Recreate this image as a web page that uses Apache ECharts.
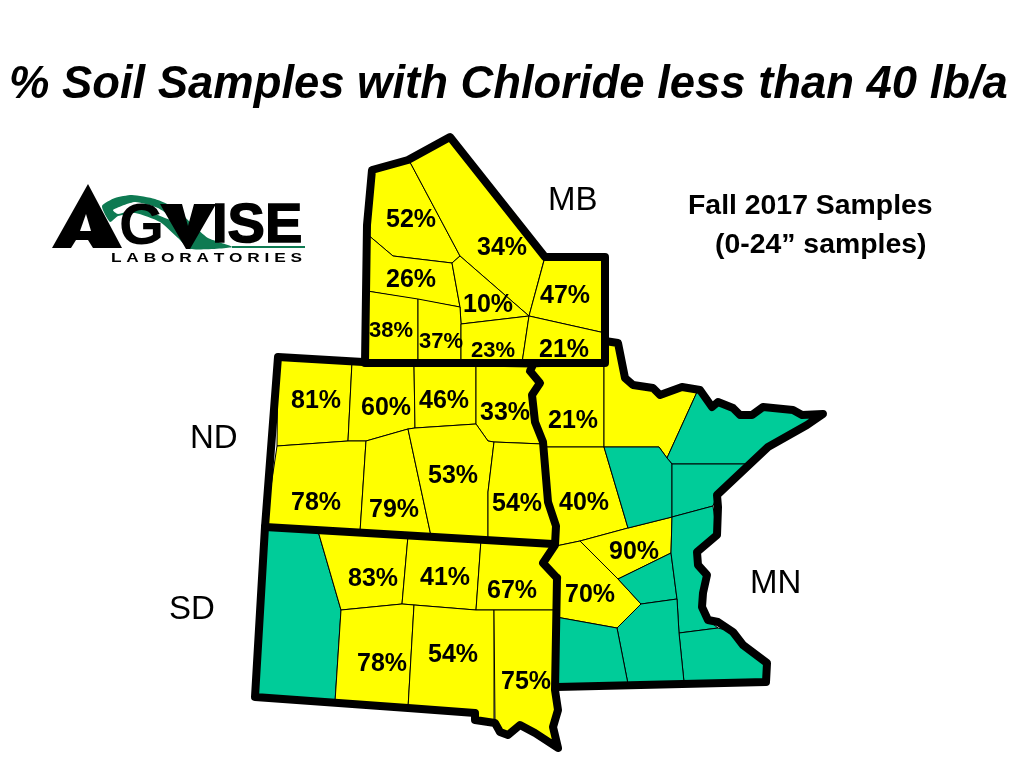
<!DOCTYPE html>
<html><head><meta charset="utf-8">
<style>html,body{margin:0;padding:0;background:#fff}#c{width:1024px;height:768px}</style>
<script src="https://cdn.jsdelivr.net/npm/echarts@6/dist/echarts.min.js"></script>
</head><body><div id="c"></div>
<script>
var titleText = '% Soil Samples with Chloride less than 40 lb/a';
var noteLines = ['Fall 2017 Samples', '(0-24\u201d samples)'];
var stateLabels = ['MB', 'ND', 'SD', 'MN'];

// percent of samples per crop-reporting district (null = no samples)
var mbValues = [52, 34, 26, 10, 47, 38, 37, 23, 21];
var ndValues = [81, 60, 46, 33, 78, 79, 53, 54];
var sdValues = [null, 83, 41, 67, 78, 54, 75];
var mnValues = [21, 0, 40, 90, 70, null, null, null, null, null, null, null, null];

// river along ND/MN and SD/MN
var river = [[532,367],[530,371],[540,383],[532,395],[535,422],[543,442],[548,502],[556,526],[555,545],[543,563],[557,578]];
var mbOutline = [[365,363],[367,225],[372,170],[408,160],[450,137],[545,257],[605,257],[605,363],[365,363]];
var ndOutline = [[265,527],[278,357],[363,362]];
var sdOutline = [[557,578],[555,690],[558,710],[553,727],[558,748],[535,733],[520,725],[508,735],[500,732],[495,723],[475,720],[475,713],[408,708],[255,697],[265,527],[553,544]];
var mnOutline = [[605,341],[618,343],[625,378],[633,385],[653,388],[660,395],[682,387],[700,390],[712,407],[718,402],[733,408],[740,415],[752,415],[763,407],[793,410],[802,415],[823,414],[807,425],[768,447],[717,495],[718,507],[717,535],[697,552],[698,565],[707,575],[703,593],[702,607],[708,620],[718,622],[733,632],[743,645],[767,663],[766,682],[557,687]];

var mbShapes = [
 [[367,234],[367,225],[372,170],[408,160],[411,164],[460,256],[452,263],[393,256]],
 [[408,160],[450,137],[545,257],[544,260],[529,316],[460,256],[411,164]],
 [[367,234],[393,256],[452,263],[460,307],[367,291]],
 [[452,263],[460,256],[529,316],[461,324],[460,307]],
 [[545,257],[605,257],[605,333],[529,316]],
 [[367,291],[418,299],[418,363],[365,363]],
 [[418,299],[460,307],[461,324],[461,363],[418,363]],
 [[461,324],[529,316],[522,363],[461,363]],
 [[529,316],[605,333],[605,363],[522,363]]
];
var ndShapes = [
 [[278,357],[352,362],[348,441],[277,446]],
 [[352,362],[414,365],[415,428],[408,429],[366,441],[348,441]],
 [[414,365],[476,366],[476,424],[415,428]],
 [[476,366],[532,367],[540,383],[532,395],[535,422],[543,444],[494,442],[488,441],[476,424]],
 [[277,446],[348,441],[366,441],[360,532],[265,527]],
 [[366,441],[408,429],[431,536],[360,532]],
 [[408,429],[415,428],[476,424],[488,441],[494,442],[488,492],[488,540],[431,536]],
 [[494,442],[543,444],[548,502],[556,526],[555,545],[488,540],[488,492]]
];
var sdShapes = [
 [[265,527],[318,531],[341,610],[335,702],[255,697]],
 [[318,531],[408,536],[402,604],[341,610]],
 [[408,536],[481,540],[476,610],[414,605],[402,604]],
 [[481,540],[555,545],[543,563],[557,578],[555,610],[494,610],[476,610]],
 [[341,610],[402,604],[414,605],[408,708],[335,702]],
 [[414,605],[476,610],[494,610],[494,722],[475,720],[475,713],[408,708]],
 [[494,610],[555,610],[555,690],[558,710],[553,727],[558,748],[535,733],[520,725],[508,735],[500,732],[495,723]]
];
var mnShapes = [
 [[532,367],[604,363],[604,447],[546,447],[543,442],[535,422],[532,395],[540,383],[530,371]],
 [[604,363],[605,341],[618,343],[625,378],[633,385],[653,388],[660,395],[682,387],[697,392],[667,458],[659,447],[604,447]],
 [[546,447],[604,447],[628,528],[580,541],[556,546],[556,526],[548,502]],
 [[580,541],[628,528],[672,517],[671,553],[618,579]],
 [[556,546],[580,541],[618,579],[641,604],[617,628],[556,617],[557,578],[543,563]],
 [[697,392],[700,390],[712,407],[718,402],[733,408],[740,415],[752,415],[763,407],[793,410],[802,415],[823,414],[807,425],[768,447],[747,464],[672,464],[667,458]],
 [[604,447],[659,447],[667,458],[672,464],[672,517],[628,528]],
 [[672,464],[747,464],[717,495],[713,506],[672,517]],
 [[618,579],[671,553],[677,599],[641,604]],
 [[672,517],[713,506],[717,535],[697,552],[698,565],[707,575],[703,593],[702,607],[708,620],[718,628],[679,633],[677,599],[671,553]],
 [[679,633],[718,628],[733,632],[743,645],[767,663],[766,682],[684,682]],
 [[641,604],[677,599],[679,633],[684,682],[628,684],[617,628]],
 [[556,617],[617,628],[628,684],[556,687]]
];
// label anchors
var mbAnchors = [[411,218],[502,246],[411,278],[488,303],[565,294],[391,329],[441,340],[493,349],[564,348]];
var ndAnchors = [[316,399],[386,406],[444,399],[505,411],[316,501],[394,508],[453,474],[517,502]];
var sdAnchors = [[296,610],[373,577],[445,576],[512,589],[382,662],[453,653],[526,680]];
var mnAnchors = [[573,419],[640,410],[584,501],[634,550],[590,593],[740,430],[630,480],[700,490],[645,580],[695,570],[720,660],[650,640],[590,650]];
var smallNames = {'MB-5':1,'MB-6':1,'MB-7':1};

var GREEN = '#00CC99', YELLOW = '#FFFF00';
var features = [], mapData = [];
function addState(prefix, shapes, anchors, values) {
  shapes.forEach(function (s, i) {
    var name = prefix + '-' + i;
    features.push({type:'Feature', properties:{name:name, cp:anchors[i]},
      geometry:{type:'Polygon', coordinates:[s.concat([s[0]])]}});
    var v = values[i];
    mapData.push({
      name:name, value:v,
      itemStyle:{areaColor: v === null ? GREEN : YELLOW},
      label:{fontSize: smallNames[name] ? 22 : 25}
    });
  });
}
addState('MB', mbShapes, mbAnchors, mbValues);
addState('ND', ndShapes, ndAnchors, ndValues);
addState('SD', sdShapes, sdAnchors, sdValues);
addState('MN', mnShapes, mnAnchors, mnValues);
echarts.registerMap('soil', {type:'FeatureCollection', features:features});

var identity = {project:function(p){return p;}, unproject:function(p){return p;}};
var bounds = [[0,0],[1024,768]];
var FF = '"Liberation Sans", Arial, sans-serif';

function t(text, x, y, font, extra) {
  var st = {text:text, x:x, y:y, font:font, fill:'#000', textAlign:'left', textVerticalAlign:'middle'};
  return Object.assign({type:'text', silent:true, z:20, style:st}, extra || {});
}
function poly(points, fill, z, smooth) {
  return {type:'polygon', silent:true, z:z, shape:{points:points, smooth:smooth || 0}, style:{fill:fill}};
}
var LG = '#0E7A52';
var graphics = [
  t(titleText, 9, 85, 'italic bold 45.4px ' + FF),
  t(noteLines[0], 688, 206, 'bold 28.4px ' + FF),
  t(noteLines[1], 715, 245, 'bold 28.4px ' + FF),
  t(stateLabels[0], 548, 201, '33px ' + FF),
  t(stateLabels[1], 190, 439, '33px ' + FF),
  t(stateLabels[2], 169, 610, '33px ' + FF),
  t(stateLabels[3], 750, 584, '33px ' + FF),
  // logo swoosh
  poly([[102,206],[115,198],[132,195],[155,199],[175,208],[192,224],[208,238],[232,247],[190,249],[178,238],[160,222],[135,213],[118,216],[110,222]], LG, 19, 0.2),
  poly([[113,210],[135,202],[158,208],[178,222],[165,218],[140,208],[118,214]], '#fff', 19.5, 0.2),
  poly([[232,246],[305,246],[305,248],[232,248]], LG, 19),
  // A
  poly([[88,184],[122,248],[93,248],[88,240],[76,240],[71,248],[52,248]], '#000', 21),
  poly([[86,214],[80,231],[91,231]], '#fff', 22),
  // G
  t('G', 119, 228, 'bold 58px ' + FF, {z:21}),
  // V
  poly([[160,204],[182,204],[188,226],[194,204],[216,204],[190,249],[186,249]], '#000', 21),
  // ISE
  {type:'text', silent:true, z:21, x:212, y:227, style:{text:'ISE', x:0, y:0, font:'bold 56px ' + FF, fill:'#000', stroke:'#000', lineWidth:1.5, textAlign:'left', textVerticalAlign:'middle'}},
  {type:'text', silent:true, z:21, x:111, y:259, scaleX:1.44, style:{text:'L A B O R A T O R I E S', x:0, y:0, font:'bold 12px ' + FF, fill:'#000', textAlign:'left', textVerticalAlign:'middle'}}
];

var chart = echarts.init(document.getElementById('c'));
chart.setOption({
  animation:false,
  backgroundColor:'#fff',
  geo:{
    map:'soil', projection:identity, boundingCoords:bounds, aspectScale:1,
    left:0, top:0, width:1024, height:768, roam:false, silent:true, z:1,
    itemStyle:{areaColor:'transparent', borderWidth:0, borderColor:'transparent'},
    label:{show:false}, emphasis:{disabled:true}
  },
  series:[
    {
      type:'map', map:'soil', projection:identity, boundingCoords:bounds, aspectScale:1,
      left:0, top:0, width:1024, height:768, roam:false, silent:true, z:2,
      selectedMode:false, showLegendSymbol:false, emphasis:{disabled:true},
      itemStyle:{borderColor:'#000', borderWidth:1},
      label:{show:true, color:'#000', fontWeight:'bold', fontFamily:'Liberation Sans', offset:[0,2],
        formatter:function (p) { return (p.value === null || !p.value) ? '' : p.value + '%'; }},
      data:mapData
    },
    {
      type:'lines', coordinateSystem:'geo', geoIndex:0, polyline:true, silent:true, z:3,
      lineStyle:{color:'#000', width:8, opacity:1, cap:'round', join:'round'},
      data:[mbOutline, ndOutline, sdOutline, mnOutline, river].map(function (c) { return {coords:c}; })
    }
  ],
  graphic:graphics
});
</script></body></html>
